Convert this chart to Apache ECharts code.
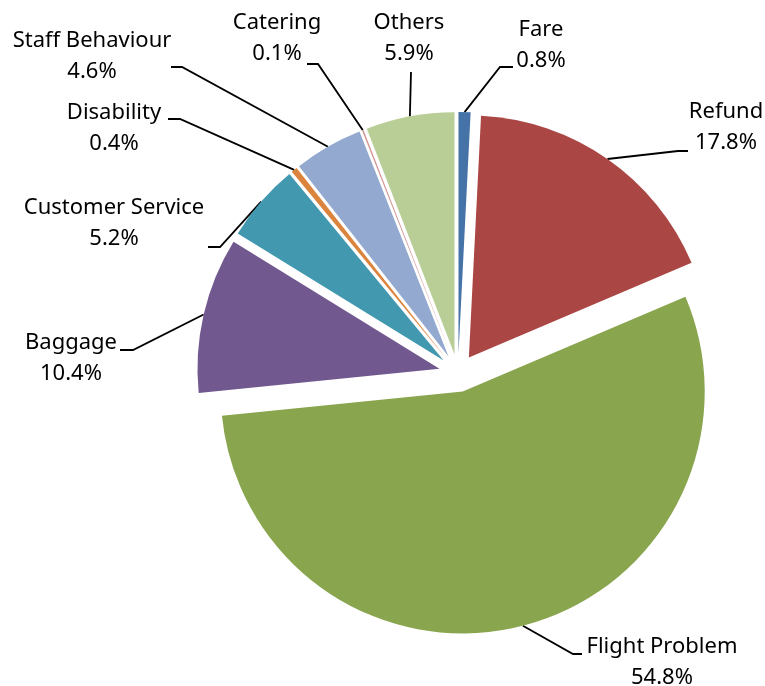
<!DOCTYPE html>
<html>
<head>
<meta charset="utf-8">
<script src="https://cdn.jsdelivr.net/npm/echarts@6/dist/echarts.min.js"></script>
<style>
html, body { margin: 0; padding: 0; background: #fff; }
#chart { width: 765px; height: 686px; }
</style>
</head>
<body>
<div id="chart"></div>
<script>
// complaint categories, clockwise from 12 o'clock
var categories = ['Fare', 'Refund', 'Flight Problem', 'Baggage', 'Customer Service',
                  'Disability', 'Staff Behaviour', 'Catering', 'Others'];
var values = [0.8, 17.8, 54.8, 10.4, 5.2, 0.4, 4.6, 0.1, 5.9];
var colors = ['#4572A7', '#AA4643', '#89A54E', '#71588F', '#4198AF',
              '#DB843D', '#93A9CF', '#D19392', '#B9CD96'];

// where each label sits: [textX, textY, elbowX, elbowY, endX, endY]
var labelSpots = [
  [541, 45, 500, 67, 513, 67],
  [726, 127, 678, 151, 688, 151],
  [662, 662, 573, 654, 582, 654],
  [71, 358, 133, 350, 120, 350],
  [114, 223, 220, 247, 208, 247],
  [114, 128, 180, 119, 168, 119],
  [92, 56, 182, 67, 171, 67],
  [277, 38, 318, 64, 307, 64],
  [409, 38, 411, 72, 411, 72]
];

var cx = 458, cy = 373, R = 242, explode = 19;

var chart = echarts.init(document.getElementById('chart'));

var pieData = categories.map(function (name, i) {
  return { name: name, value: values[i], selected: true, itemStyle: { color: colors[i] } };
});
var labelData = categories.map(function (name, i) {
  return { name: name, value: values[i] };
});

var option = {
  animation: false,
  series: [{
    // the exploded slices
    type: 'pie',
    center: [cx, cy],
    radius: R,
    startAngle: 90,
    clockwise: true,
    selectedMode: 'multiple',
    selectedOffset: explode,
    emphasis: { disabled: true },
    silent: true,
    label: { show: false },
    labelLine: { show: false },
    data: pieData
  }, {
    // same pie, invisible, only carries the labels
    type: 'pie',
    center: [cx, cy],
    radius: R,
    startAngle: 90,
    clockwise: true,
    silent: true,
    avoidLabelOverlap: false,
    percentPrecision: 1,
    emphasis: { disabled: true },
    itemStyle: { color: 'rgba(0,0,0,0)' },
    label: {
      show: true,
      position: 'outside',
      formatter: '{b}\n{d}%',
      fontFamily: 'Noto Sans',
      fontSize: 22,
      lineHeight: 31,
      color: '#000',
      align: 'center',
      overflow: 'none'
    },
    labelLine: {
      show: true,
      lineStyle: { color: '#000', width: 1.8 }
    },
    labelLayout: function (p) {
      var s = labelSpots[p.dataIndex];
      var start = [s[2], s[3]];
      if (p.labelLinePoints) {
        // push the start out to the edge of the exploded slice
        var p0 = p.labelLinePoints[0];
        var k = (R + explode) / R;
        start = [cx + (p0[0] - cx) * k, cy + (p0[1] - cy) * k];
      }
      return {
        x: s[0],
        y: s[1],
        align: 'center',
        verticalAlign: 'middle',
        labelLinePoints: [start, [s[2], s[3]], [s[4], s[5]]]
      };
    },
    data: labelData
  }]
};

chart.setOption(option);
</script>
</body>
</html>
